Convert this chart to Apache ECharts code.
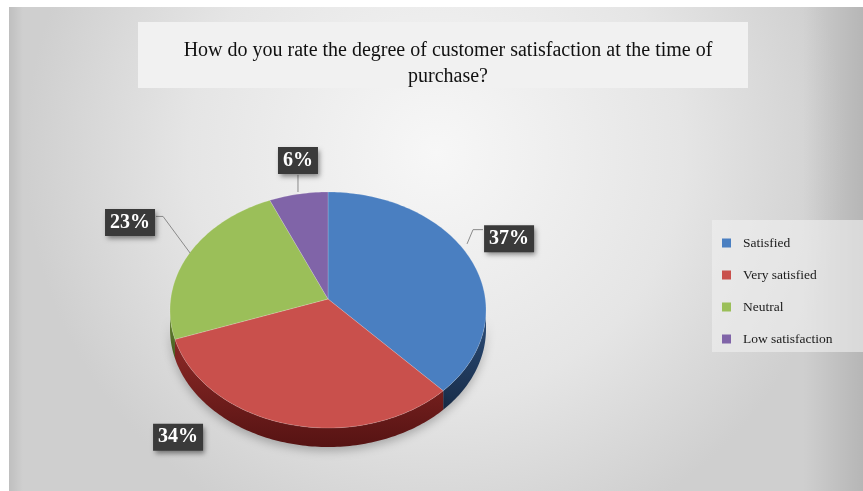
<!DOCTYPE html>
<html>
<head>
<meta charset="utf-8">
<script src="https://cdn.jsdelivr.net/npm/echarts@6/dist/echarts.min.js"></script>
<style>
html, body { margin: 0; padding: 0; background: #fff; }
#main { width: 863px; height: 491px; }
</style>
</head>
<body>
<div id="main"></div>
<script>
var categories = ['Satisfied', 'Very satisfied', 'Neutral', 'Low satisfaction'];
var values = [37, 34, 23, 6];
var percentLabels = ['37%', '34%', '23%', '6%'];

var colors = ['#4a7fc1', '#c9504c', '#9bbf59', '#8064a8'];
var sideTop = ['#2c4e7a', '#8e2a27', '#6a8a35', '#54407a'];
var sideBottom = ['#182c48', '#561313', '#445a1f', '#35284f'];
// label boxes + leader lines, in pie units (1 = radius)
var labelAt = [[1.146, 0.603], [-0.949, -1.078], [-1.253, 0.741], [-0.190, 1.266]];
var leaders = [
    [[0.981, 0.681], [0.918, 0.681], [0.880, 0.560]],
    [],
    [[-1.089, 0.793], [-1.044, 0.793], [-0.873, 0.483]],
    [[-0.190, 1.145], [-0.190, 1.0]]
];

var total = values.reduce(function (a, b) { return a + b; }, 0);
var startAngles = [];
var acc = 0;
values.forEach(function (v) { startAngles.push(acc / total * Math.PI * 2); acc += v; });

var DEPTH = 19;   // thickness of the pie
var APEX = 11;    // perspective: apex sits a bit above the ellipse center

function pt(api, theta, dy) {
    var c = api.coord([0, 0]);
    var s = api.size([1, 1]);
    return [c[0] + s[0] * Math.sin(theta), c[1] - s[1] * Math.cos(theta) + (dy || 0)];
}

function arc(api, a0, a1, dy) {
    var pts = [];
    var n = Math.max(4, Math.ceil((a1 - a0) / 0.02));
    for (var k = 0; k <= n; k++) pts.push(pt(api, a0 + (a1 - a0) * k / n, dy));
    return pts;
}

function renderSides(params, api) {
    var children = [];
    values.forEach(function (v, i) {
        var a0 = startAngles[i];
        var a1 = a0 + v / total * Math.PI * 2;
        var s = Math.max(a0, Math.PI / 2);
        var e = Math.min(a1, Math.PI * 1.5);
        if (e <= s) return;
        var top = arc(api, s, e, 0);
        var bottom = arc(api, s, e, DEPTH).reverse();
        children.push({
            type: 'polygon',
            shape: { points: top.concat(bottom) },
            style: {
                fill: new echarts.graphic.LinearGradient(0, 0, 0, 1, [
                    { offset: 0, color: sideTop[i] },
                    { offset: 1, color: sideBottom[i] }
                ]),
                shadowBlur: 10,
                shadowOffsetY: 4,
                shadowColor: 'rgba(0,0,0,0.25)'
            }
        });
    });
    return { type: 'group', children: children };
}

function makeTop(i) {
    return function (params, api) {
        var c = api.coord([0, 0]);
        var a0 = startAngles[i];
        var a1 = a0 + values[i] / total * Math.PI * 2;
        var pts = [[c[0], c[1] - APEX]].concat(arc(api, a0, a1, 0));
        var children = [{
            type: 'polygon',
            shape: { points: pts },
            style: { fill: colors[i], stroke: 'rgba(255,255,255,0.3)', lineWidth: 0.6 }
        }];
        if (leaders[i].length) {
            children.push({
                type: 'polyline',
                shape: { points: leaders[i].map(function (p) { return api.coord(p); }) },
                style: { stroke: '#8a8a8a', lineWidth: 1, fill: null }
            });
        }
        var lp = api.coord(labelAt[i]);
        children.push({
            type: 'text',
            x: lp[0],
            y: lp[1],
            z2: 10,
            style: {
                text: percentLabels[i],
                fill: '#fff',
                fontFamily: 'Liberation Serif',
                fontWeight: 'bold',
                fontSize: 20,
                align: 'center',
                verticalAlign: 'middle',
                backgroundColor: '#3a3a3a',
                padding: [4, 5, 3, 5],
                shadowBlur: 5,
                shadowOffsetX: 2,
                shadowOffsetY: 3,
                shadowColor: 'rgba(0,0,0,0.45)'
            }
        });
        return { type: 'group', children: children };
    };
}

var series = [{
    type: 'custom',
    coordinateSystem: 'cartesian2d',
    renderItem: renderSides,
    data: [[0, 0]],
    silent: true,
    z: 1
}];
categories.forEach(function (name, i) {
    series.push({
        name: name,
        type: 'custom',
        coordinateSystem: 'cartesian2d',
        renderItem: makeTop(i),
        itemStyle: { color: colors[i] },
        data: [[0, 0, values[i]]],
        z: 3
    });
});

var myChart = echarts.init(document.getElementById('main'));
var option = {
    animation: false,
    backgroundColor: '#fff',
    graphic: [
        {
            type: 'rect',
            z: -10,
            shape: { x: 9, y: 7, width: 854, height: 484 },
            style: {
                fill: new echarts.graphic.RadialGradient(0.5, 0.3, 0.85, [
                    { offset: 0, color: '#f7f7f7' },
                    { offset: 0.6, color: '#e5e5e5' },
                    { offset: 1, color: '#cfcfcf' }
                ])
            }
        },
        {
            type: 'rect',
            z: -10,
            shape: { x: 803, y: 7, width: 60, height: 484 },
            style: {
                fill: new echarts.graphic.LinearGradient(0, 0, 1, 0, [
                    { offset: 0, color: 'rgba(0,0,0,0)' },
                    { offset: 1, color: 'rgba(0,0,0,0.12)' }
                ])
            }
        },
        {
            type: 'rect',
            z: -10,
            shape: { x: 9, y: 7, width: 14, height: 484 },
            style: {
                fill: new echarts.graphic.LinearGradient(0, 0, 1, 0, [
                    { offset: 0, color: 'rgba(0,0,0,0.08)' },
                    { offset: 1, color: 'rgba(0,0,0,0)' }
                ])
            }
        },
        {
            type: 'rect',
            z: -9,
            shape: { x: 138, y: 22, width: 610, height: 66 },
            style: { fill: '#f1f1f1' }
        },
        {
            type: 'rect',
            z: -9,
            shape: { x: 712, y: 220, width: 151, height: 132 },
            style: { fill: 'rgba(240,240,240,0.6)' }
        }
    ],
    title: {
        text: 'How do you rate the degree of customer satisfaction at the time of\npurchase?',
        left: 443,
        top: 33,
        textAlign: 'center',
        textStyle: {
            fontFamily: 'Liberation Serif',
            fontSize: 20,
            fontWeight: 'normal',
            color: '#111',
            lineHeight: 26
        }
    },
    legend: {
        data: categories,
        orient: 'vertical',
        left: 722,
        top: 236,
        icon: 'rect',
        itemWidth: 9,
        itemHeight: 9,
        itemGap: 18,
        padding: 0,
        selectedMode: false,
        textStyle: {
            fontFamily: 'Liberation Serif',
            fontSize: 13.5,
            color: '#1a1a1a',
            padding: [0, 0, 0, 7]
        }
    },
    grid: { left: 170, top: 192, width: 316, height: 236 },
    xAxis: { type: 'value', min: -1, max: 1, show: false },
    yAxis: { type: 'value', min: -1, max: 1, show: false },
    series: series
};
myChart.setOption(option);
</script>
</body>
</html>
